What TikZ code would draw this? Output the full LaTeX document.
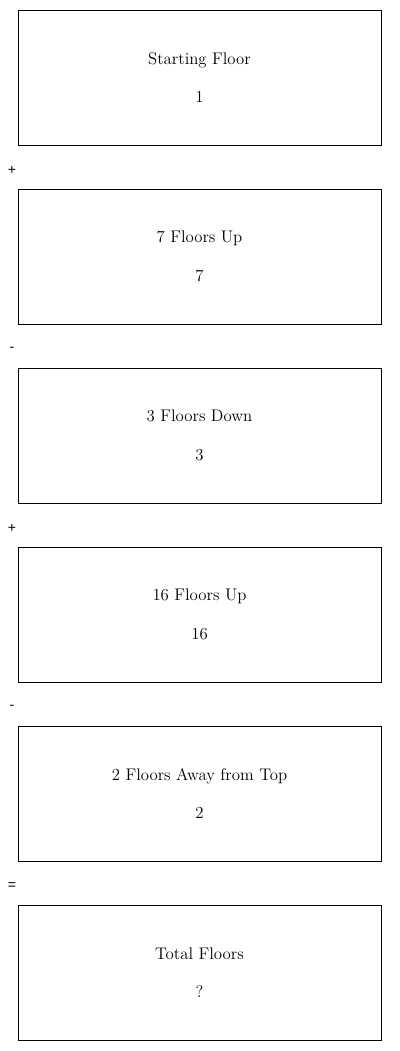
\documentclass[tikz,border=0pt]{standalone}
\usepackage{fontspec}
\newfontfamily\opfont{Liberation Sans}
\begin{document}
\begin{tikzpicture}[
	x=0.75pt,
	y=-0.75pt,
	floorbox/.style={
		rectangle,
		draw=black,
		line width=0.75pt,
		align=center,
		font=\fontsize{12.6}{14}\selectfont,
		minimum width=272.25pt,
		minimum height=101.25pt,
		inner sep=0pt
	},
	operator/.style={
		font=\opfont\fontsize{10.5}{12}\selectfont,
		inner sep=0pt
	},
]
\useasboundingbox (0,0) rectangle (400,1051);

% Boxes
\foreach \i/\t/\v in {0/Starting Floor/1, 1/7 Floors Up/7, 2/3 Floors Down/3, 3/16 Floors Up/16, 4/2 Floors Away from Top/2, 5/Total Floors/?}
	\node[floorbox] (floor\i) at (199.5, 77.5+179*\i) {\t\\[15pt]\v};

% Operators
\foreach \i/\o in {1/+, 2/-, 3/+, 4/-, 5/=}
	\node[operator] (op\i) at (12, -8.5+179*\i) {\o};

\end{tikzpicture}
\end{document}
